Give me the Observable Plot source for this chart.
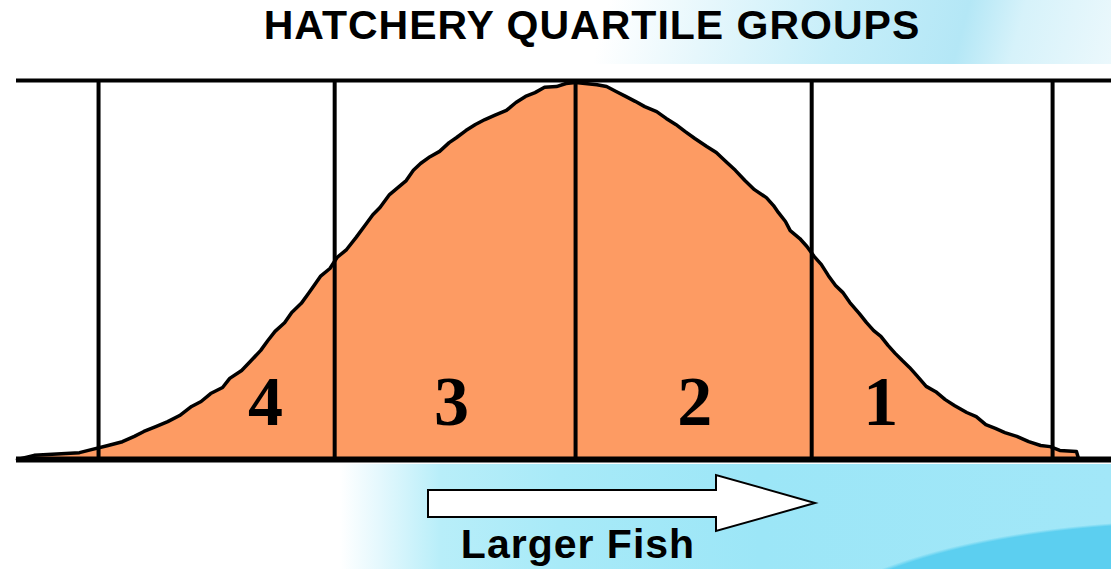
<!DOCTYPE html>
<html><head><meta charset="utf-8">
<script src="https://cdn.jsdelivr.net/npm/d3@7"></script>
<script src="https://cdn.jsdelivr.net/npm/@observablehq/plot@0.6"></script>
<style>
html,body{margin:0;padding:0;background:#fff;}
#wrap{position:relative;width:1111px;height:569px;overflow:hidden;
 background:
  radial-gradient(ellipse 420px 140px at 1200px 660px, #5ccff0 98%, rgba(92,207,240,0) 100%),
  linear-gradient(to right, #fff 0px, #fff 340px, #e4f8fd 380px, #b8eef9 440px, #a8eaf8 560px, #9ce6f7 760px, #a2e7f8 1111px);}
#title{position:absolute;left:0;top:0;width:1111px;height:64px;
 background:linear-gradient(105deg,#fff 0%,#fff 54%,#e6f7fc 63%,#c6eef9 75%,#b4e7f6 86%,#d6f2fa 91%,#ebf8fc 100%);}
#title span,#caption{position:absolute;white-space:nowrap;transform:translateX(-50%);
 font-family:"Liberation Sans",Arial,sans-serif;font-weight:bold;font-size:41px;line-height:41px;letter-spacing:1px;color:#000;}
#title span{left:592px;top:5px;}
#caption{left:578px;top:524px;}
#chart{position:absolute;left:0;top:64px;}
#arrow{position:absolute;left:0;top:0;}
</style></head>
<body>
<div id="wrap">
 <div id="title"><span>HATCHERY QUARTILE GROUPS</span></div>
 <div id="chart"></div>
 <svg id="arrow" width="1111" height="569"><polygon points="428,490 716,490 716,475 815,503 716,531 716,517 428,517" fill="#fff" stroke="#000" stroke-width="2" stroke-linejoin="miter"/></svg>
 <div id="caption">Larger Fish</div>
</div>
<script>
// fish size in quartile-width units (0 = median)
const size = [-2.34,-2.27,-2.08,-2.03,-1.96,-1.90,-1.85,-1.81,-1.76,-1.71,-1.66,-1.61,-1.57,-1.53,-1.48,-1.45,-1.40,-1.36,-1.32,-1.29,-1.26,-1.22,-1.19,-1.15,-1.12,-1.10,-1.07,-1.03,-1.00,-0.96,-0.92,-0.88,-0.85,-0.82,-0.78,-0.74,-0.71,-0.68,-0.65,-0.61,-0.57,-0.53,-0.50,-0.46,-0.42,-0.38,-0.34,-0.29,-0.25,-0.21,-0.17,-0.13,-0.08,-0.04,0.00,0.04,0.09,0.13,0.17,0.21,0.25,0.29,0.34,0.38,0.42,0.46,0.50,0.55,0.59,0.63,0.67,0.71,0.75,0.80,0.83,0.85,0.88,0.90,0.94,0.97,1.00,1.03,1.06,1.09,1.12,1.15,1.19,1.22,1.25,1.28,1.31,1.34,1.37,1.40,1.43,1.47,1.51,1.55,1.59,1.64,1.68,1.72,1.76,1.80,1.85,1.90,1.95,1.99,2.03,2.10,2.11];
// relative frequency (percent of top line)
const freq = [0,1.1,1.8,2.6,3.7,4.7,6.1,7.4,8.7,10.0,11.6,14.0,15.3,17.4,19.0,21.4,23.5,26.1,28.8,31.4,33.8,36.1,38.8,41.2,43.8,45.6,48.3,50.4,53.3,55.4,58.6,62.0,64.6,66.5,69.9,72.0,73.6,76.3,78.1,79.9,81.3,83.6,84.9,86.8,88.4,89.7,90.8,92.1,94.2,95.8,96.8,98.2,98.4,99.2,99.5,99.2,98.9,98.4,97.1,95.8,94.5,93.1,91.8,90.0,88.4,86.5,84.7,82.6,81.0,78.6,76.3,73.6,71.2,69.1,67.0,65.2,62.8,60.4,58.3,56.2,53.6,51.5,48.5,45.9,44.1,41.4,38.5,36.1,34.0,32.5,30.1,28.0,26.1,24.3,22.2,19.3,17.9,15.8,14.2,12.4,11.3,9.2,8.2,7.1,6.1,4.7,3.7,3.4,2.4,2.1,0];
const boundaries = [-2.00,-1.01,0,0.99,2.00];
const groups = ["4","3","2","1"];
const groupX = [-1.30,-0.52,0.50,1.28];
const groupY = [9.2,9.2,9.2,9.2];

const curve = size.map((x,i)=>({x, y: freq[i]}));
const labels = groups.map((g,i)=>({g, x: groupX[i], y: groupY[i]}));

const chart = Plot.plot({
  width:1111, height:400,
  marginTop:16, marginBottom:5, marginLeft:16, marginRight:0,
  x:{domain:[-2.344,2.247], axis:null},
  y:{domain:[0,100], axis:null},
  style:{background:"white", overflow:"visible"},
  marks:[
    Plot.areaY(curve,{x:"x", y:"y", fill:"#fd9b63"}),
    Plot.line(curve,{x:"x", y:"y", stroke:"#000", strokeWidth:3.5}),
    Plot.ruleX(boundaries,{y1:0, y2:100, stroke:"#000", strokeWidth:4}),
    Plot.ruleY([100],{stroke:"#000", strokeWidth:4}),
    Plot.ruleY([0],{stroke:"#000", strokeWidth:6}),
    Plot.text(labels,{x:"x", y:"y", text:"g", fontSize:70, fontWeight:"bold",
      fontFamily:"Liberation Serif, Times New Roman, serif", lineAnchor:"bottom", fill:"#000"})
  ]
});
document.getElementById("chart").appendChild(chart);
</script>
</body></html>
